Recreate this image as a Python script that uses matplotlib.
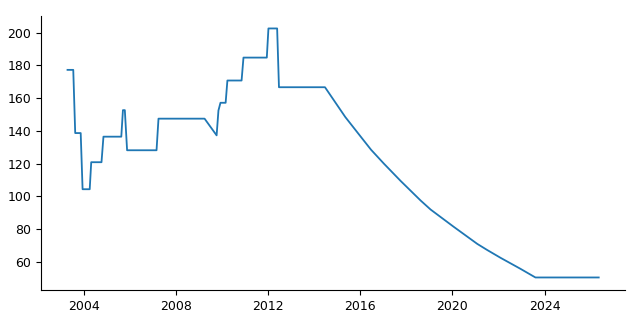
import matplotlib
matplotlib.use("Agg")
import matplotlib.pyplot as plt
import pandas as pd

# values
dates = ["2003-04-15", "2003-07-15", "2003-08-15", "2003-11-10", "2003-12-10",
         "2004-04-01", "2004-04-25", "2004-10-05", "2004-11-05", "2005-08-15",
         "2005-09-10", "2005-10-10", "2005-11-15", "2007-02-25", "2007-03-28",
         "2009-03-28", "2009-10-05", "2009-11-03", "2009-12-05", "2010-02-25",
         "2010-03-25", "2010-11-05", "2010-12-05", "2011-12-10", "2012-01-05",
         "2012-05-22", "2012-06-20", "2014-06-20", "2015-05-08", "2016-01-08",
         "2016-06-20", "2017-01-10", "2017-10-01", "2018-08-15", "2019-01-20",
         "2020-01-20", "2021-01-30", "2021-07-05", "2022-02-03", "2022-12-15",
         "2023-08-10", "2026-05-10"]
values = [177.3, 177.3, 138.7, 138.7, 104.4,
          104.4, 120.9, 120.9, 136.5, 136.5,
          152.7, 152.7, 128.2, 128.2, 147.5,
          147.5, 137.3, 152.5, 157.2, 157.2,
          170.8, 170.8, 184.8, 184.8, 202.6,
          202.6, 166.7, 166.7, 148.5, 136.5,
          128.5, 120.0, 109.5, 97.5, 92.0,
          81.5, 71.0, 67.3, 62.5, 55.8,
          50.5, 50.5]

x = pd.to_datetime(dates)

fig, ax = plt.subplots(figsize=(6.4, 3.2), dpi=100)
fig.subplots_adjust(left=0.064, right=0.977, bottom=0.094, top=0.95)
ax.plot(x, values, color="#1f77b4", linewidth=1.3)
ax.spines["top"].set_visible(False)
ax.spines["right"].set_visible(False)
ax.tick_params(labelsize=9)
fig.savefig("out.png", dpi=100)
